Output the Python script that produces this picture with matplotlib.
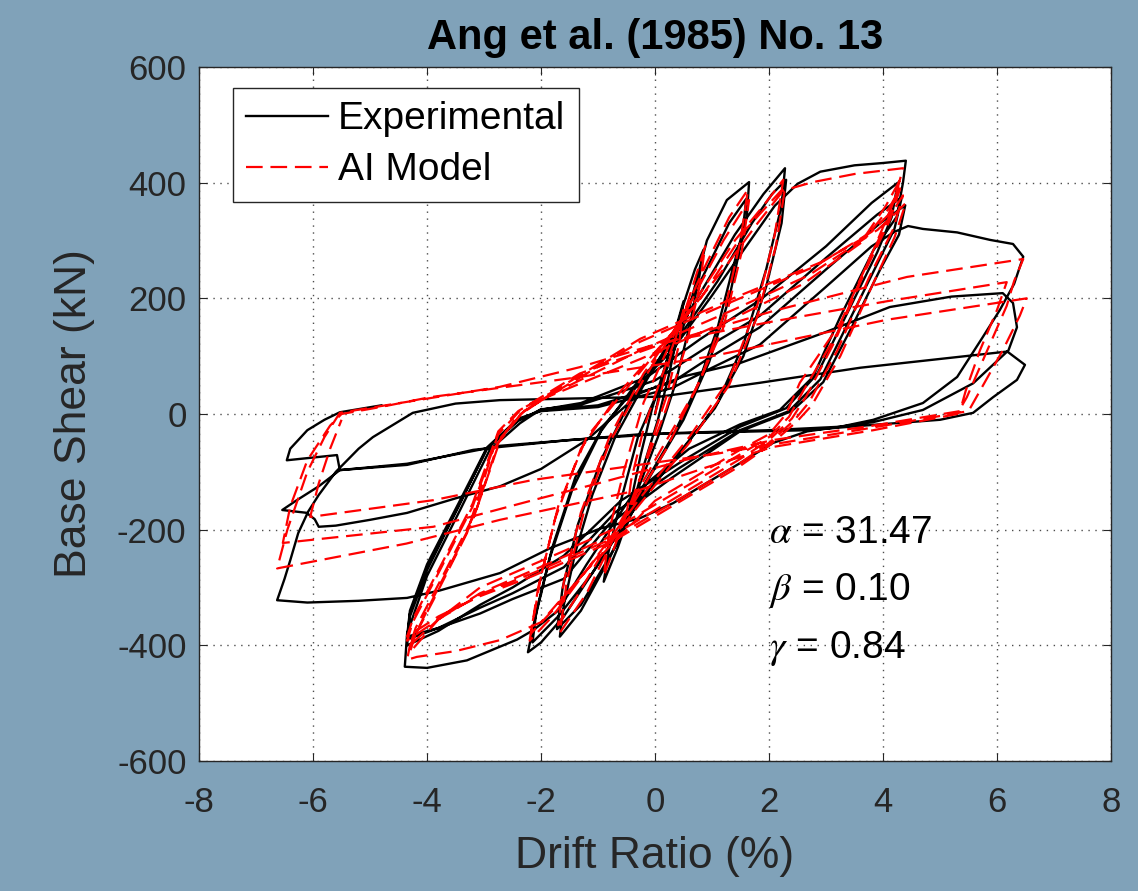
import numpy as np
import matplotlib.pyplot as plt

plt.rcParams['font.family'] = ['Liberation Sans', 'DejaVu Sans']
plt.rcParams['mathtext.fontset'] = 'stix'
plt.rcParams['axes.unicode_minus'] = False

# measured hysteresis, (drift %, base shear kN)
exp_points = [
    (0, 0), (0.2, 90), (0.4, 160), (0.5, 195),
    (0.42, 150), (0.25, 70), (0.05, -10), (-0.2, -90), (-0.4, -160), (-0.5, -195),
    (-0.42, -150), (-0.25, -70), (-0.05, 10), (0.2, 90), (0.5, 190), (0.7, 250), (0.85, 284),
    (0.78, 240), (0.6, 150), (0.35, 50), (0.05, -40), (-0.3, -130), (-0.65, -230), (-0.9, -290),
    (-0.82, -240), (-0.6, -150), (-0.3, -40), (0.1, 50), (0.56, 168), (0.91, 300), (1.26, 370), (1.65, 401),
    (1.61, 341), (1.37, 254), (1.1, 150), (0.75, 50), (0.3, -40), (-0.3, -140), (-0.8, -250), (-1.3, -340), (-1.67, -385),
    (-1.6, -330), (-1.4, -240), (-1.1, -140), (-0.7, -40), (-0.2, 50), (0.4, 150), (0.9, 250), (1.3, 330), (1.6, 372),
    (1.52, 300), (1.3, 200), (0.95, 90), (0.5, -10), (-0.1, -110), (-0.7, -230), (-1.3, -330), (-1.72, -372),
    (-1.62, -300), (-1.35, -190), (-0.95, -80), (-0.45, 20), (0.2, 110), (0.8, 210), (1.4, 310), (1.9, 380), (2.28, 425),
    (2.22, 360), (1.95, 250), (1.55, 120), (1.1, 20), (0.5, -60), (-0.3, -150), (-1.0, -260), (-1.6, -350), (-2.0, -395), (-2.23, -412),
    (-2.12, -360), (-1.85, -250), (-1.45, -130), (-0.95, -30), (-0.35, 50), (0.4, 130), (1.1, 230), (1.7, 330), (2.05, 380), (2.3, 405),
    (2.22, 330), (1.95, 220), (1.55, 100), (1.05, 10), (0.4, -70), (-0.4, -170), (-1.1, -275), (-1.7, -350), (-2.15, -395),
    (-2.08, -340), (-1.8, -230), (-1.4, -110), (-0.9, -20), (-0.3, 50),
    (0.3, 110), (1.0, 205), (1.6, 290), (2.1, 360), (2.5, 398), (2.9, 419), (3.5, 430), (4.0, 434), (4.4, 438),
    (4.35, 400), (4.24, 341), (3.83, 283), (3.25, 168), (2.77, 64), (2.19, 7), (1.49, -18), (0.6, -60), (-0.4, -140),
    (-1.2, -260), (-1.7, -340), (-2.14, -374), (-2.42, -390), (-3.3, -426), (-4.0, -439), (-4.39, -437),
    (-4.35, -380), (-4.0, -280), (-3.42, -166), (-2.9, -62), (-2.37, -16), (-2.02, 7), (-1.3, 19), (-0.14, 64), (0.8, 130),
    (1.84, 197), (3.0, 290), (3.8, 365), (4.26, 400),
    (4.15, 340), (3.9, 280), (3.4, 180), (2.85, 70), (2.3, 10), (1.49, -22), (0.5, -80), (-0.6, -150), (-1.6, -245),
    (-2.5, -300), (-3.07, -330), (-3.8, -375), (-4.35, -400),
    (-4.3, -350), (-4.0, -270), (-3.45, -160), (-2.95, -60), (-2.4, -12), (-2.0, 8), (-1.3, 16), (0.0, 58), (0.9, 115),
    (1.84, 170), (3.0, 270), (3.9, 345), (4.33, 375),
    (4.2, 320), (3.9, 260), (3.4, 160), (2.9, 60), (2.35, 5), (1.49, -28), (0.4, -95), (-0.7, -170), (-1.6, -265),
    (-2.5, -310), (-3.07, -335), (-3.8, -370), (-4.35, -390),
    (-4.3, -345), (-4.0, -265), (-3.45, -160), (-2.95, -60), (-2.4, -10), (-2.0, 6), (-1.0, 15), (0.3, 55), (1.0, 100),
    (1.84, 150), (3.0, 250), (3.95, 330), (4.39, 361),
    (4.28, 310), (3.95, 250), (3.45, 150), (2.95, 55), (2.4, 5), (1.49, -30), (0.3, -110), (-0.8, -190), (-1.6, -285),
    (-2.5, -320), (-3.07, -345), (-3.8, -370), (-4.35, -385),
    (-4.3, -340), (-4.0, -260), (-3.45, -155), (-2.95, -58), (-2.4, -8), (-2.0, 5), (-1.0, 12), (0.3, 45), (1.0, 80),
    (1.84, 120), (3.0, 220), (3.8, 290), (4.2, 315), (4.44, 325),
    (4.7, 320), (5.3, 314), (5.88, 301), (6.28, 294), (6.46, 272),
    (6.3, 225), (6.05, 180), (5.75, 133), (5.3, 64), (4.7, 19), (3.83, -10), (3.25, -22), (2.67, -30), (2.07, -50),
    (1.49, -85), (0.91, -119), (0.32, -154), (-0.26, -180), (-0.96, -198), (-1.84, -232), (-2.72, -275), (-3.77, -305),
    (-4.35, -318), (-5.2, -323), (-6.1, -326), (-6.63, -322),
    (-6.5, -285), (-6.4, -253), (-6.26, -206), (-6.1, -172), (-5.97, -182), (-5.9, -195), (-5.6, -193), (-5.0, -183),
    (-4.35, -171), (-3.47, -145), (-2.72, -125), (-2.0, -95), (-1.2, -45), (-0.26, 36), (0.5, 65), (1.49, 88),
    (2.95, 140), (4.12, 185), (5.2, 203), (6.1, 209),
    (6.28, 192), (6.35, 150), (6.2, 110), (5.58, 53), (4.7, 7), (3.83, -14), (3.25, -22), (2.0, -28), (0.3, -33),
    (-1.5, -45), (-2.72, -57), (-3.19, -62), (-4.35, -88), (-5.53, -97), (-5.9, -125), (-6.3, -150), (-6.54, -166),
    (-6.1, -171), (-5.9, -140), (-5.6, -100), (-5.2, -60), (-4.95, -40), (-4.25, 2), (-3.5, 18), (-2.72, 24),
    (0.09, 30), (1.84, 54), (3.6, 80), (6.18, 108), (6.49, 85),
    (6.35, 59), (5.93, 29), (5.58, 2), (5.0, -10), (3.8, -19), (2.67, -28), (1.0, -32), (-0.26, -35), (-1.5, -45),
    (-2.72, -55), (-4.35, -86), (-5.53, -97), (-5.58, -71), (-6.46, -80),
    (-6.4, -60), (-6.1, -28), (-5.8, -10), (-5.53, 3), (-4.8, 15),
]

# model prediction, (drift %, base shear kN)
model_points = [
    (0, 0), (0.3, 110), (0.5, 180),
    (0.42, 120), (0.2, 30), (-0.1, -60), (-0.35, -140), (-0.5, -175),
    (-0.42, -115), (-0.2, -25), (0.1, 60), (0.5, 170), (0.88, 290),
    (0.78, 220), (0.55, 120), (0.2, 10), (-0.3, -120), (-0.9, -280),
    (-0.8, -200), (-0.55, -100), (-0.2, 20), (0.3, 130), (0.9, 260), (1.3, 340), (1.63, 388),
    (1.5, 300), (1.2, 170), (0.8, 60), (0.2, -60), (-0.6, -190), (-1.2, -310), (-1.67, -378),
    (-1.55, -290), (-1.25, -170), (-0.8, -50), (-0.2, 60), (0.5, 170), (1.2, 300), (1.65, 370),
    (1.52, 280), (1.2, 150), (0.7, 40), (0.0, -80), (-0.8, -220), (-1.4, -320), (-1.7, -365),
    (-1.6, -290), (-1.3, -170), (-0.8, -40), (-0.2, 70), (0.6, 180), (1.4, 300), (1.9, 360), (2.25, 405),
    (2.1, 310), (1.8, 190), (1.3, 60), (0.6, -40), (-0.3, -150), (-1.2, -270), (-1.8, -350), (-2.2, -392),
    (-2.05, -300), (-1.75, -180), (-1.3, -60), (-0.6, 40), (0.3, 140), (1.2, 250), (1.8, 330), (2.28, 390),
    (2.12, 290), (1.8, 170), (1.3, 50), (0.6, -50), (-0.3, -160), (-1.2, -270), (-1.8, -340), (-2.18, -380),
    (-2.0, -280), (-1.7, -160), (-1.2, -40),
    (-0.2, 80), (0.8, 200), (1.6, 320), (2.2, 385), (2.77, 401), (3.5, 415), (4.35, 425),
    (4.2, 370), (3.83, 283), (3.25, 157), (2.54, 54), (2.3, 0), (2.0, -35), (1.49, -62), (0.0, -150), (-1.2, -270),
    (-2.0, -360), (-2.72, -391), (-3.5, -410), (-4.18, -420), (-4.35, -425),
    (-4.3, -400), (-3.89, -322), (-3.3, -206), (-2.84, -62), (-2.43, -5), (-2.0, 25), (-0.26, 95), (1.37, 165),
    (2.6, 225), (3.6, 295), (4.05, 360), (4.3, 405),
    (4.15, 350), (3.75, 265), (3.2, 140), (2.6, 40), (2.35, -5), (2.0, -40), (1.49, -70), (-0.74, -200),
    (-2.14, -260), (-3.07, -300), (-3.8, -355), (-4.3, -412),
    (-4.2, -380), (-3.8, -300), (-3.2, -185), (-2.75, -50), (-2.35, 0), (-1.9, 30), (-0.26, 110), (1.37, 180),
    (2.7, 240), (3.7, 305), (4.1, 355), (4.3, 390),
    (4.12, 335), (3.7, 250), (3.15, 125), (2.65, 30), (2.4, -8), (2.0, -45), (1.49, -78), (-0.74, -210),
    (-2.14, -270), (-3.07, -310), (-3.8, -355), (-4.3, -400),
    (-4.2, -370), (-3.75, -285), (-3.15, -170), (-2.7, -40), (-2.3, 5), (-1.8, 35), (-0.26, 125), (1.37, 195),
    (2.8, 255), (3.8, 315), (4.2, 355), (4.35, 378),
    (4.18, 320), (3.75, 235), (3.2, 110), (2.7, 20), (2.45, -10), (2.0, -50), (1.49, -85), (-0.74, -215),
    (-2.14, -275), (-3.07, -312), (-3.8, -355), (-4.35, -392),
    (-4.25, -360), (-3.8, -275), (-3.2, -160), (-2.75, -35), (-2.35, 8), (-1.8, 38), (-0.26, 130), (1.37, 200),
    (2.9, 262), (3.9, 318), (4.25, 350), (4.4, 365),
    (4.2, 305), (3.8, 220), (3.25, 100), (2.75, 15), (2.5, -12), (2.0, -55), (1.49, -90), (-0.74, -220),
    (-2.14, -280), (-3.07, -315), (-3.8, -350), (-4.35, -385),
    (-4.25, -355), (-3.8, -270), (-3.2, -155), (-2.75, -30), (-2.4, 5),
    (-1.32, 70), (0.09, 120), (2.07, 178), (4.42, 237), (6.46, 268),
    (6.3, 230), (6.17, 187), (5.93, 133), (5.47, 29), (5.3, 0), (3.83, -28), (2.07, -57), (0.91, -92), (-0.26, -131),
    (-2.72, -183), (-4.36, -224), (-6.0, -255), (-6.63, -267),
    (-6.45, -200), (-6.1, -100), (-5.8, -40), (-5.53, 2), (-5.23, 7), (-2.72, 47), (-1.32, 81), (0.09, 123),
    (2.07, 160), (4.07, 195), (6.17, 228),
    (6.0, 180), (5.7, 110), (5.45, 40), (5.35, 5), (3.83, -20), (2.07, -45), (0.5, -80), (-1.0, -120), (-2.14, -149),
    (-3.89, -195), (-6.53, -223),
    (-6.4, -160), (-6.1, -80), (-5.7, -20), (-5.5, 0), (-4.82, 12), (-3.95, 29), (-1.32, 64), (1.0, 100),
    (4.07, 163), (6.52, 200),
    (6.4, 170), (6.1, 110), (5.7, 40), (5.5, 5), (3.25, -33), (1.0, -70), (-2.14, -114), (-3.89, -149), (-6.05, -178),
    (-5.9, -120), (-5.7, -60), (-5.5, -10),
]

params = ['31.47', '0.10', '0.84']
param_names = [r'$\alpha$', r'$\beta$', r'$\gamma$']

exp_x, exp_y = np.array(exp_points).T
mod_x, mod_y = np.array(model_points).T

fig = plt.figure(figsize=(11.38, 8.91), dpi=100, facecolor='#80a2b9')
ax = fig.add_axes([0.1749, 0.1459, 0.8014, 0.7789])

ax.plot(exp_x, exp_y, color='k', lw=1.7, label='Experimental')
ax.plot(mod_x, mod_y, color='r', lw=1.6, ls=(0, (7.5, 3.5)), label='AI Model')

ax.set_xlim(-8, 8)
ax.set_ylim(-600, 600)
ax.set_xticks(np.arange(-8, 9, 2))
ax.set_yticks(np.arange(-600, 601, 200))
ax.grid(True, linestyle=(0, (1, 4)), color='0.3', lw=1.0)
ax.tick_params(direction='in', top=True, right=True, labelsize=25, colors='#262626', length=6)
ax.tick_params(axis='x', pad=18)
ax.tick_params(axis='y', pad=9)
for s in ax.spines.values():
    s.set_color('#262626')
    s.set_linewidth(1.0)

ax.set_xlabel('Drift Ratio (%)', fontsize=32, color='#262626', labelpad=12)
ax.set_ylabel('Base Shear (kN)', fontsize=32, color='#262626', labelpad=16)
ax.set_title('Ang et al. (1985) No. 13', fontsize=30, fontweight='bold', pad=13)

for i in range(3):
    ax.text(2.0, -205 - i * 100, param_names[i] + ' = ' + params[i], fontsize=28, va='center', ha='left')

leg = ax.legend(loc='upper left', bbox_to_anchor=(0.037, 0.97), borderaxespad=0, fontsize=28,
                handlelength=2.1, handletextpad=0.25, borderpad=0.35, labelspacing=0.38,
                fancybox=False, framealpha=1, edgecolor='#262626')
leg.get_frame().set_linewidth(1.0)

plt.savefig('out.png', dpi=100, facecolor=fig.get_facecolor())
